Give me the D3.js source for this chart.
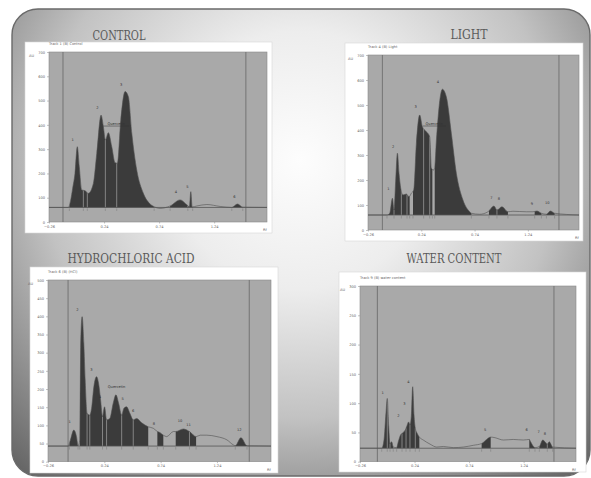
<!DOCTYPE html>
<html lang="en">
<head>
  <meta charset="UTF-8">
  <title>TLC densitograms</title>
  <script src="https://d3js.org/d3.v7.min.js"></script>
  <style>
    body { margin: 0; background: #fff; }
    svg { display: block; }
    .title { font-family: "DejaVu Serif", "Liberation Serif", serif; font-size: 12px; fill: #5a5a5a; }
    .tiny { font-family: "DejaVu Sans", sans-serif; font-size: 3.6px; fill: #666; }
  </style>
</head>
<body>
  <div id="chart"></div>

  <script>
    // Rf axis ticks shared by all four tracks
    const xTicks = [-0.26, 0.24, 0.74, 1.24];

    // CONTROL: [Rf, AU]
    const controlYTicks = [0, 100, 200, 300, 400, 500, 600, 700];
    const controlCurve = [[-0.26,60],[-0.085,60],[-0.063,90],[-0.045,139],[-0.024,200],[-0.003,310],[0.015,228],[0.037,132],
      [0.067,129],[0.097,118],[0.143,159],[0.174,283],[0.213,440],[0.234,392],[0.252,338],[0.279,368],[0.31,310],[0.34,244],
      [0.361,242],[0.392,420],[0.431,537],[0.461,516],[0.492,365],[0.537,214],[0.597,118],[0.658,74],[0.695,63],[0.749,56],
      [0.84,66],[0.931,91],[0.992,71],[1.015,63],[1.028,125],[1.04,62],[1.083,66],[1.174,72],[1.295,64],[1.40,60],[1.452,74],
      [1.50,61],[1.72,60]];
    const controlFills = [[-0.075,0.695],[0.84,1.045],[1.40,1.50]];
    const controlCuts = [0.052,0.088,0.252,0.355,1.001];
    const controlPeaks = [[-0.045,335,'1'],[0.179,464,'2'],[0.395,560,'3'],[0.892,118,'4'],[0.997,139,'5'],[1.425,100,'6']];
    const controlMarker = [0.234,0.468,395];

    // LIGHT
    const lightYTicks = [0, 100, 200, 300, 400, 500, 600, 700];
    const lightCurve = [[-0.26,60],[-0.082,60],[-0.056,67],[-0.031,127],[-0.016,80],[0.0,200],[0.016,307],[0.031,227],
      [0.047,167],[0.068,140],[0.10,144],[0.125,133],[0.147,147],[0.169,160],[0.194,347],[0.225,460],[0.25,413],[0.288,393],
      [0.319,373],[0.335,247],[0.356,240],[0.366,250],[0.382,360],[0.438,563],[0.475,533],[0.522,387],[0.569,227],[0.631,120],
      [0.694,73],[0.71,67],[0.788,63],[0.866,73],[0.922,96],[0.95,80],[0.997,93],[1.053,73],[1.10,75],[1.226,73],[1.288,73],
      [1.325,76],[1.367,67],[1.414,63],[1.451,76],[1.491,67],[1.72,60]];
    const lightFills = [[-0.082,0.131],[0.162,0.344],[0.366,0.71],[0.875,1.053],[1.304,1.367],[1.414,1.491]];
    const lightCuts = [-0.016,0.053,0.106,0.262,0.319,0.95];
    const lightPeaks = [[-0.069,160,'1'],[-0.025,329,'2'],[0.187,487,'3'],[0.397,587,'4'],[0.898,124,'7'],[0.969,120,'8'],
      [1.278,100,'9'],[1.423,104,'10']];
    const lightMarker = [0.253,0.472,416];

    // HYDROCHLORIC ACID
    const hclYTicks = [0, 50, 100, 150, 200, 250, 300, 350, 400, 450, 500];
    const hclCurve = [[-0.26,43],[-0.082,43],[-0.061,60],[-0.031,87],[-0.007,69],[0.007,44],[0.022,60],[0.031,335],
      [0.043,399],[0.058,326],[0.07,225],[0.087,133],[0.111,128],[0.129,151],[0.147,206],[0.171,234],[0.189,216],[0.207,170],
      [0.224,124],[0.242,151],[0.26,115],[0.289,119],[0.319,161],[0.343,184],[0.367,161],[0.394,128],[0.414,147],[0.438,151],
      [0.467,133],[0.497,115],[0.527,119],[0.572,107],[0.63,96],[0.675,92],[0.711,83],[0.735,80],[0.764,73],[0.794,69],
      [0.853,83],[0.874,83],[0.942,90],[0.996,83],[1.055,69],[1.091,73],[1.15,73],[1.24,69],[1.329,60],[1.387,46],[1.403,44],
      [1.453,66],[1.507,44],[1.72,43]];
    const hclFills = [[-0.07,0.007],[0.022,0.63],[0.711,0.764],[0.874,1.055],[1.403,1.507]];
    const hclCuts = [0.087,0.111,0.224,0.26,0.394,0.497,0.996];
    const hclPeaks = [[-0.067,106,'1'],[0.0,416,'2'],[0.126,250,'3'],[0.2,174,'4'],[0.349,202,'Quercetin'],[0.402,170,'5'],
      [0.497,138,'6'],[0.681,101,'8'],[0.913,110,'10'],[0.987,98,'11'],[1.438,84,'12']];

    // WATER CONTENT
    const waterYTicks = [0, 50, 100, 150, 200, 250, 300];
    const waterCurve = [[-0.26,23],[-0.061,23],[-0.04,37],[-0.022,83],[-0.01,108],[0.003,60],[0.015,31],[0.03,34],[0.045,25],
      [0.076,24],[0.091,34],[0.113,46],[0.137,50],[0.155,54],[0.168,60],[0.186,68],[0.198,63],[0.21,77],[0.223,128],[0.235,80],
      [0.247,57],[0.265,48],[0.284,42],[0.32,37],[0.382,30],[0.443,25],[0.504,26],[0.595,24],[0.687,25],[0.779,28],[0.855,31],
      [0.901,38],[0.938,42],[0.977,41],[1.054,37],[1.145,38],[1.237,37],[1.292,38],[1.304,34],[1.344,24],[1.384,26],[1.415,37],
      [1.436,34],[1.457,30],[1.475,34],[1.506,25],[1.72,23]];
    const waterFills = [[-0.061,0.045],[0.076,0.284],[0.855,0.938],[1.292,1.344],[1.384,1.506]];
    const waterCuts = [-0.01,0.015,0.125,0.162,0.198,0.247,1.457];
    const waterPeaks = [[-0.052,115,'1'],[0.091,77,'2'],[0.146,96,'3'],[0.183,135,'4'],[0.888,53,'5'],[1.268,53,'6'],
      [1.378,49,'7'],[1.436,46,'8']];

    const panels = [
      { title: 'CONTROL', tx: 119, ty: 40, tw: 53, box: [25, 42, 272, 233], plot: [49, 52, 267, 222], ticks: controlYTicks,
        track: 'Track 1 (B) Control', curve: controlCurve, fills: controlFills, cuts: controlCuts, peaks: controlPeaks,
        marker: controlMarker, base: 60, lanes: [-0.133, 1.528] },
      { title: 'LIGHT', tx: 469, ty: 39, tw: 37, box: [345, 43, 583, 241], plot: [368, 55, 579, 230], ticks: lightYTicks,
        track: 'Track 4 (B) Light', curve: lightCurve, fills: lightFills, cuts: lightCuts, peaks: lightPeaks,
        marker: lightMarker, base: 60, lanes: [-0.125, 1.532] },
      { title: 'HYDROCHLORIC ACID', tx: 131, ty: 263, tw: 127, box: [30, 267, 278, 473], plot: [48, 280, 271, 461.7], ticks: hclYTicks,
        track: 'Track 6 (B) (HCl)', curve: hclCurve, fills: hclFills, cuts: hclCuts, peaks: hclPeaks,
        marker: null, base: 43, lanes: [-0.082, 1.527] },
      { title: 'WATER CONTENT', tx: 454, ty: 263, tw: 95, box: [339, 272, 586, 472], plot: [360, 286, 576, 461.7], ticks: waterYTicks,
        track: 'Track 9 (B) water content', curve: waterCurve, fills: waterFills, cuts: waterCuts, peaks: waterPeaks,
        marker: null, base: 23, lanes: [-0.101, 1.518] }
    ];

    const W = 591, H = 478;
    const svg = d3.select('#chart').append('svg').attr('width', W).attr('height', H);
    const defs = svg.append('defs');

    const bg = defs.append('radialGradient').attr('id', 'bg')
      .attr('gradientUnits', 'userSpaceOnUse').attr('cx', 300).attr('cy', 160).attr('r', 430);
    bg.append('stop').attr('offset', 0).attr('stop-color', '#fdfdfd');
    bg.append('stop').attr('offset', 0.3).attr('stop-color', '#ededed');
    bg.append('stop').attr('offset', 0.6).attr('stop-color', '#c2c2c2');
    bg.append('stop').attr('offset', 1).attr('stop-color', '#5e5e5e');

    svg.append('rect').attr('x', 12).attr('y', 9).attr('width', 578).attr('height', 467).attr('rx', 26)
      .attr('fill', 'url(#bg)').attr('stroke', '#6a6a6a').attr('stroke-width', 1.4);

    function valueAt(curve, x) {
      for (let i = 1; i < curve.length; i++) {
        if (x <= curve[i][0]) {
          const a = curve[i - 1], b = curve[i];
          return a[1] + (b[1] - a[1]) * (x - a[0]) / (b[0] - a[0]);
        }
      }
      return curve[curve.length - 1][1];
    }

    panels.forEach((p, k) => {
      const [bx0, by0, bx1, by1] = p.box;
      const [x0, y0, x1, y1] = p.plot;
      const g = svg.append('g');

      svg.append('text').attr('class', 'title').attr('x', p.tx - p.tw / 2).attr('y', p.ty)
        .attr('textLength', p.tw).attr('lengthAdjust', 'spacingAndGlyphs').text(p.title);

      g.append('rect').attr('x', bx0).attr('y', by0).attr('width', bx1 - bx0).attr('height', by1 - by0)
        .attr('fill', '#fff').attr('stroke', '#d8d8d8').attr('stroke-width', 0.6);

      const x = d3.scaleLinear().domain([-0.26, 1.72]).range([x0, x1]);
      const y = d3.scaleLinear().domain([0, p.ticks[p.ticks.length - 1]]).range([y1, y0]);

      g.append('rect').attr('x', x0).attr('y', y0).attr('width', x1 - x0).attr('height', y1 - y0)
        .attr('fill', '#a9a9a9').attr('stroke', '#8a8a8a').attr('stroke-width', 0.6);

      // track start / end
      g.selectAll('line.lane').data(p.lanes).join('line')
        .attr('x1', d => x(d)).attr('x2', d => x(d)).attr('y1', y0).attr('y2', y1)
        .attr('stroke', '#6e6e6e').attr('stroke-width', 0.9);

      // integrated peak areas
      const clipId = 'clip' + k;
      defs.append('clipPath').attr('id', clipId).selectAll('rect').data(p.fills).join('rect')
        .attr('x', d => x(d[0])).attr('width', d => x(d[1]) - x(d[0])).attr('y', y0).attr('height', y1 - y0);

      const area = d3.area().x(d => x(d[0])).y0(y(p.base)).y1(d => y(d[1])).curve(d3.curveMonotoneX);
      g.append('path').datum(p.curve).attr('d', area).attr('fill', '#3b3b3b')
        .attr('clip-path', `url(#${clipId})`);

      g.selectAll('line.cut').data(p.cuts).join('line')
        .attr('x1', d => x(d)).attr('x2', d => x(d)).attr('y1', y(p.base)).attr('y2', d => y(valueAt(p.curve, d)))
        .attr('stroke', '#b5b5b5').attr('stroke-width', 0.6);

      const line = d3.line().x(d => x(d[0])).y(d => y(d[1])).curve(d3.curveMonotoneX);
      g.append('path').datum(p.curve).attr('d', line).attr('fill', 'none')
        .attr('stroke', '#505050').attr('stroke-width', 0.6);

      // baseline
      g.append('line').attr('x1', x0).attr('x2', x1).attr('y1', y(p.base)).attr('y2', y(p.base))
        .attr('stroke', '#555').attr('stroke-width', 0.8);

      // boundary markers below baseline
      const marks = p.fills.flat().concat(p.cuts);
      g.selectAll('line.mk').data(marks).join('line')
        .attr('x1', d => x(d)).attr('x2', d => x(d)).attr('y1', y(p.base) + 1).attr('y2', y(p.base) + 3.5)
        .attr('stroke', '#777').attr('stroke-width', 0.5);

      // peak numbers
      g.selectAll('text.pk').data(p.peaks).join('text').attr('class', 'tiny')
        .attr('x', d => x(d[0])).attr('y', d => y(d[1])).attr('text-anchor', 'middle')
        .style('fill', '#333').text(d => d[2]);

      if (p.marker) {
        const [m0, m1, mv] = p.marker;
        g.append('line').attr('x1', x(m0)).attr('x2', x(m1)).attr('y1', y(mv)).attr('y2', y(mv))
          .attr('stroke', '#333').attr('stroke-width', 0.5);
        g.append('text').attr('class', 'tiny').attr('x', (x(m0) + x(m1)) / 2).attr('y', y(mv) - 1)
          .attr('text-anchor', 'middle').style('fill', '#333').text('Quercetin');
      }

      // axes
      const ya = g.append('g').attr('transform', `translate(${x0},0)`)
        .call(d3.axisLeft(y).tickValues(p.ticks).tickSize(2).tickPadding(2));
      ya.select('.domain').remove();
      ya.selectAll('line').attr('stroke', '#888').attr('stroke-width', 0.5);
      ya.selectAll('text').attr('class', 'tiny').attr('font-size', null).attr('font-family', null);

      const xa = g.append('g').attr('transform', `translate(0,${y1})`)
        .call(d3.axisBottom(x).tickValues(xTicks).tickSize(1.5).tickPadding(1.5).tickFormat(d3.format('.2f')));
      xa.select('.domain').remove();
      xa.selectAll('line').attr('stroke', '#888').attr('stroke-width', 0.5);
      xa.selectAll('text').attr('class', 'tiny').attr('font-size', null).attr('font-family', null);

      g.append('text').attr('class', 'tiny').attr('x', x0 - 20).attr('y', y0 + 5).text('AU');
      g.append('text').attr('class', 'tiny').attr('x', x1 - 4).attr('y', y1 + 9).text('Rf');
      g.append('text').attr('class', 'tiny').attr('x', x0).attr('y', y0 - 7).text(p.track);
    });
  </script>
</body>
</html>
